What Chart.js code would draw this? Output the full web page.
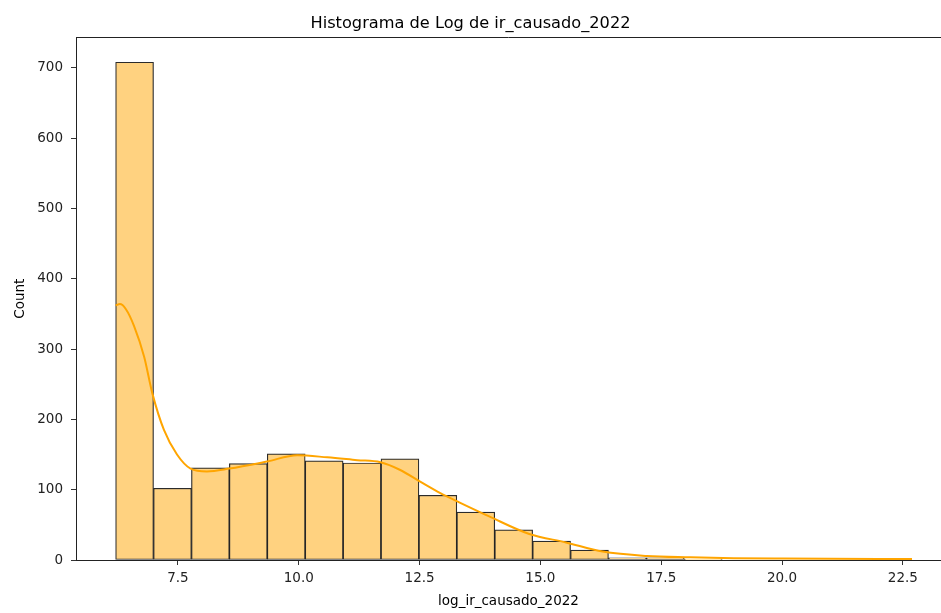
<!DOCTYPE html>
<html>
<head>
<meta charset="utf-8">
<script src="https://cdn.jsdelivr.net/npm/chart.js@4.4.0/dist/chart.umd.min.js"></script>
<style>
  html, body { margin: 0; padding: 0; background: #fff; }
  #wrap { width: 941px; height: 613px; }
</style>
</head>
<body>
<div id="wrap"><canvas id="c" width="941" height="613"></canvas></div>
<script>
// ---- data ----
const binStart = 6.21;
const binWidth = 0.7845;
const counts = [708, 102, 131, 137, 151, 141, 138, 144, 92, 68, 43, 27, 14, 3, 3, 1, 0, 0, 0, 0, 1];
const kdeX = [6.21, 6.30, 6.42, 6.59, 6.80, 6.97, 7.21, 7.48, 7.76, 8.10, 8.56, 9.34, 9.97, 10.59, 11.21, 11.69, 12.10, 12.52, 12.93, 13.26, 13.94, 14.77, 15.53, 16.29, 17.20, 18.10, 19.0, 20.0, 21.0, 22.0, 22.69];
const kdeY = [362, 364, 357, 333, 289, 237, 185, 150, 130, 126, 130, 140, 149, 146, 142, 139, 128, 111, 95, 84, 62, 37, 25, 12, 5.7, 3.8, 2.6, 2.0, 1.7, 1.6, 1.5];
const xTicks = [7.5, 10.0, 12.5, 15.0, 17.5, 20.0, 22.5];
const yTicks = [0, 100, 200, 300, 400, 500, 600, 700];
const titleText = 'Histograma de Log de ir_causado_2022';
const xLabel = 'log_ir_causado_2022';
const yLabel = 'Count';

const barData = counts.map((c, i) => ({ x: binStart + binWidth * (i + 0.5), y: c }));
const kdeData = kdeX.map((x, i) => ({ x: x, y: kdeY[i] }));

const FONT = 'DejaVu Sans';

const topSpine = {
  id: 'topSpine',
  afterDraw(chart) {
    const { ctx, chartArea } = chart;
    ctx.save();
    ctx.strokeStyle = '#222';
    ctx.lineWidth = 1;
    ctx.beginPath();
    ctx.moveTo(chartArea.left, Math.round(chartArea.top) + 0.5);
    ctx.lineTo(chartArea.right, Math.round(chartArea.top) + 0.5);
    ctx.stroke();
    ctx.restore();
  }
};

new Chart(document.getElementById('c'), {
  type: 'bar',
  data: {
    datasets: [
      {
        type: 'line',
        data: kdeData,
        borderColor: '#FFA500',
        borderWidth: 2,
        pointRadius: 0,
        cubicInterpolationMode: 'monotone',
        fill: false,
        order: 0
      },
      {
        type: 'bar',
        data: barData,
        backgroundColor: 'rgb(255, 210, 128)',
        borderColor: 'rgba(20, 20, 20, 0.9)',
        borderWidth: 1.2,
        borderSkipped: false,
        barPercentage: 1.0,
        categoryPercentage: 1.0,
        grouped: false,
        order: 1
      }
    ]
  },
  options: {
    responsive: false,
    animation: false,
    layout: { padding: { left: 0, right: 0, top: 0, bottom: 0 } },
    plugins: {
      legend: { display: false },
      tooltip: { enabled: false },
      title: {
        display: true,
        text: titleText,
        color: '#000',
        font: { family: FONT, size: 16.2, weight: 'normal' },
        padding: { top: 14, bottom: 3.9 }
      }
    },
    scales: {
      x: {
        type: 'linear',
        min: 5.39,
        max: 23.29,
        offset: false,
        grid: { display: true, drawOnChartArea: false, drawTicks: true, tickLength: 5, color: '#333', offset: false },
        border: { display: true, color: '#222', width: 1 },
        afterBuildTicks(scale) { scale.ticks = xTicks.map(v => ({ value: v })); },
        ticks: {
          color: '#222',
          font: { family: FONT, size: 13.5 },
          padding: 5,
          maxRotation: 0,
          autoSkip: false,
          callback: v => Number(v).toFixed(1)
        },
        title: {
          display: true,
          text: xLabel,
          color: '#000',
          font: { family: FONT, size: 13.5 },
          padding: { top: 2, bottom: 3 }
        },
        afterFit(scale) { scale.height = 53; }
      },
      y: {
        type: 'linear',
        min: 0,
        max: 743.4,
        grid: { display: true, drawOnChartArea: false, drawTicks: true, tickLength: 5, color: '#333' },
        border: { display: true, color: '#222', width: 1 },
        afterBuildTicks(scale) { scale.ticks = yTicks.map(v => ({ value: v })); },
        ticks: {
          color: '#222',
          font: { family: FONT, size: 13.5 },
          padding: 8,
          autoSkip: false
        },
        title: {
          display: true,
          text: yLabel,
          color: '#000',
          font: { family: FONT, size: 13.5 },
          padding: { top: 12, bottom: 0 }
        },
        afterFit(scale) { scale.width = 76; }
      }
    }
  },
  plugins: [topSpine]
});
</script>
</body>
</html>
